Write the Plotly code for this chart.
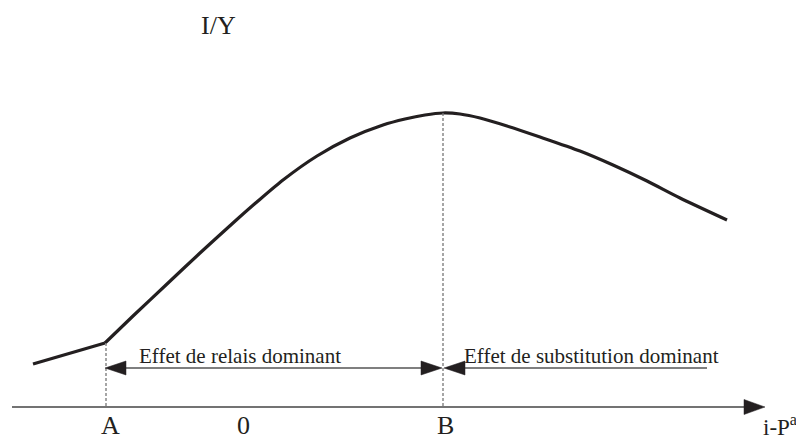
import plotly.graph_objects as go

# Canvas coordinates (x to the right, y downward) matching the original diagram
W, H = 804, 439
OFF = 8  # default page body margin

# Curve: linear part before A, then smooth hump peaking at B
low_x = [33, 105]
low_y = [364, 343]
curve_x = [105, 133, 167, 200, 233, 258, 283, 317, 350, 383, 405, 425, 443,
           460, 480, 507, 540, 580, 613, 647, 680, 727]
curve_y = [343, 316, 284, 253, 223, 201, 180, 156, 138, 125, 119, 115, 113,
           114, 118, 126, 137, 151, 165, 181, 198, 220]

# Key abscissae
A_x, B_x = 105, 443
axis_y = 407
axis_x0, axis_tip = 12, 765
arrow_y = 368
subst_end = 707

# Labels
tick_labels = ["A", "0", "B"]
tick_pos = [110, 243, 445]
effect_labels = ["Effet de relais dominant", "Effet de substitution dominant"]
effect_pos = [240, 591]

FONT = "Liberation Serif, Times New Roman, serif"
INK = "#231f20"
GREY = "#555555"

fig = go.Figure()

fig.add_trace(go.Scatter(x=low_x, y=low_y, mode="lines",
                         line=dict(color=INK, width=3.2), hoverinfo="skip"))
fig.add_trace(go.Scatter(x=curve_x, y=curve_y, mode="lines",
                         line=dict(color=INK, width=3.2, shape="spline", smoothing=0.7),
                         hoverinfo="skip"))

shapes = []
# horizontal axis
shapes.append(dict(type="line", x0=axis_x0, x1=axis_tip - 15, y0=axis_y, y1=axis_y,
                   line=dict(color="#444444", width=1.6)))
# dashed verticals
shapes.append(dict(type="line", x0=A_x + 1, x1=A_x + 1, y0=low_y[-1], y1=axis_y,
                   line=dict(color="#777777", width=1.3, dash="3px,2px")))
shapes.append(dict(type="line", x0=B_x, x1=B_x, y0=min(curve_y), y1=axis_y,
                   line=dict(color="#777777", width=1.3, dash="3px,2px")))
# effect arrows shafts
shapes.append(dict(type="line", x0=A_x + 15, x1=B_x - 15, y0=arrow_y, y1=arrow_y,
                   line=dict(color=GREY, width=1.5)))
shapes.append(dict(type="line", x0=B_x + 15, x1=subst_end, y0=arrow_y, y1=arrow_y,
                   line=dict(color=GREY, width=1.5)))


def head(tip_x, tip_y, direction, length=21, half=7):
    bx = tip_x - direction * length
    return dict(type="path",
                path=f"M {tip_x} {tip_y} L {bx} {tip_y - half} L {bx} {tip_y + half} Z",
                fillcolor=INK, line=dict(color=INK, width=0.5))


shapes.append(head(A_x, arrow_y, -1))
shapes.append(head(B_x - 1, arrow_y, 1))
shapes.append(head(B_x + 1, arrow_y, -1))
shapes.append(head(axis_tip, axis_y, 1, length=21, half=7.5))

annotations = []
for t, x in zip(tick_labels, tick_pos):
    annotations.append(dict(x=x, y=425, text=t, showarrow=False, xanchor="center",
                            yanchor="middle", font=dict(family=FONT, size=26, color=INK)))
for t, x in zip(effect_labels, effect_pos):
    annotations.append(dict(x=x, y=356, text=t, showarrow=False, xanchor="center",
                            yanchor="middle", font=dict(family=FONT, size=21, color=INK)))
annotations.append(dict(x=761, y=425, text="i-P<sup>a</sup>", showarrow=False,
                        xanchor="left", yanchor="middle",
                        font=dict(family=FONT, size=23, color=INK)))
annotations.append(dict(x=218, y=25, text="I/Y", showarrow=False, xanchor="center",
                        yanchor="middle", font=dict(family=FONT, size=26, color=INK)))

fig.update_layout(
    width=W - OFF, height=H - OFF, margin=dict(l=0, r=0, t=0, b=0),
    paper_bgcolor="white", plot_bgcolor="white", showlegend=False,
    xaxis=dict(range=[OFF, W], visible=False, fixedrange=True),
    yaxis=dict(range=[H, OFF], visible=False, fixedrange=True),
    shapes=shapes, annotations=annotations,
)

fig.write_html("out.html")
